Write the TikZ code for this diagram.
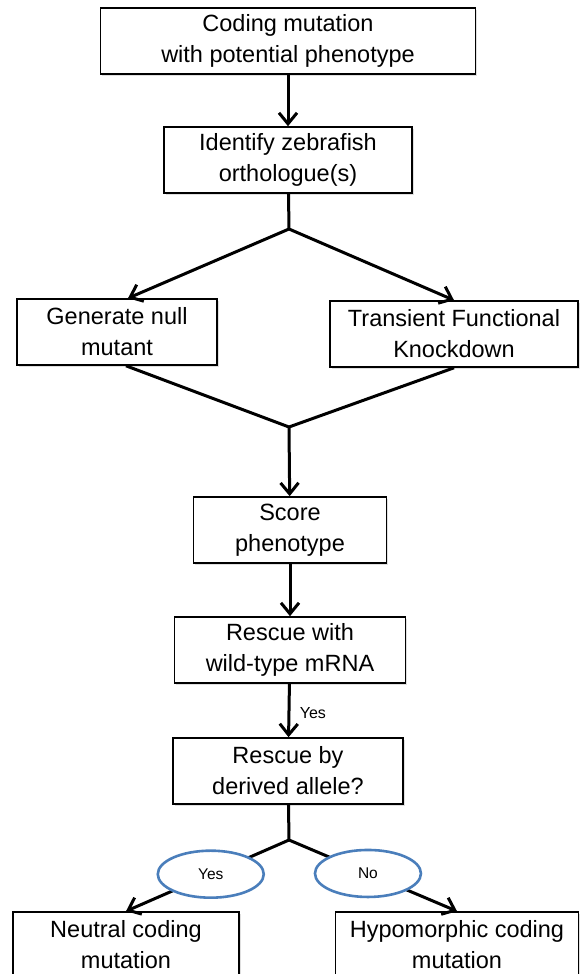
\documentclass[tikz,border=0pt]{standalone}
\usepackage{fontspec}
\setmainfont{Liberation Sans}
\usetikzlibrary{arrows.meta,shapes.geometric,shadows}
\definecolor{choiceblue}{RGB}{74,126,187}

\begin{document}
\begin{tikzpicture}[x=1pt,y=-1pt,
	box/.style={draw,line width=1.6pt,fill=white,align=center,inner sep=0pt,minimum height=66pt,
		font=\fontsize{23.5}{31}\selectfont,
		drop shadow={shadow xshift=1.5pt,shadow yshift=-2pt,opacity=0.25}},
	link/.style={line width=3pt},
	arr/.style={link,-{Straight Barb[length=11pt,width=18pt]}},
	choice/.style={ellipse,draw=choiceblue,line width=2.6pt,fill=white,inner sep=0pt,
		minimum width=106pt,minimum height=47pt,font=\fontsize{15.5}{18}\selectfont},
	lbl/.style={font=\fontsize{16}{18}\selectfont}]
	\useasboundingbox (0,0) rectangle (580,974);
	% boxes
	\node[box,minimum width=375pt] (code) at (288,41) {Coding mutation\\with potential phenotype};
	\node[box,minimum width=248pt] (ortho) at (288,160) {Identify zebrafish\\orthologue(s)};
	\node[box,minimum width=200pt] (null) at (117,332) {Generate null\\mutant};
	\node[box,minimum width=248pt] (knock) at (454,334) {Transient Functional\\Knockdown};
	\node[box,minimum width=193pt] (score) at (290,530) {Score\\phenotype};
	\node[box,minimum width=231pt] (rescue) at (290,650) {Rescue with\\wild-type mRNA};
	\node[box,minimum width=230pt] (derived) at (288,771) {Rescue by\\derived allele?};
	\node[box,minimum width=226pt] (neutral) at (126,945) {Neutral coding\\mutation};
	\node[box,minimum width=243pt] (hypo) at (457,945) {Hypomorphic coding\\mutation};
	\coordinate (f1) at (289,229);
	\coordinate (f2) at (289,427);
	\coordinate (f3) at (289,840);
	% connectors
	\draw[arr] (code) -- (ortho);
	\draw[link] (ortho) -- (f1);
	\draw[arr] (f1) -- ([xshift=11pt]null.north);
	\draw[arr] (f1) -- (knock.north);
	\draw[link] ([xshift=9pt]null.south) -- (f2) -- (knock.south);
	\draw[arr] (f2) -- (score);
	\draw[arr] (score) -- (rescue);
	\draw[arr] (rescue) -- node[lbl,right=6pt,yshift=-3pt] {Yes} (derived);
	\draw[link] (derived) -- (f3);
	\draw[arr] (f3) -- node[choice,pos=0.48] (yes) {Yes} (neutral.north);
	\draw[arr] (f3) -- node[choice,pos=0.47] (no) {No} (hypo.north);
\end{tikzpicture}
\end{document}
